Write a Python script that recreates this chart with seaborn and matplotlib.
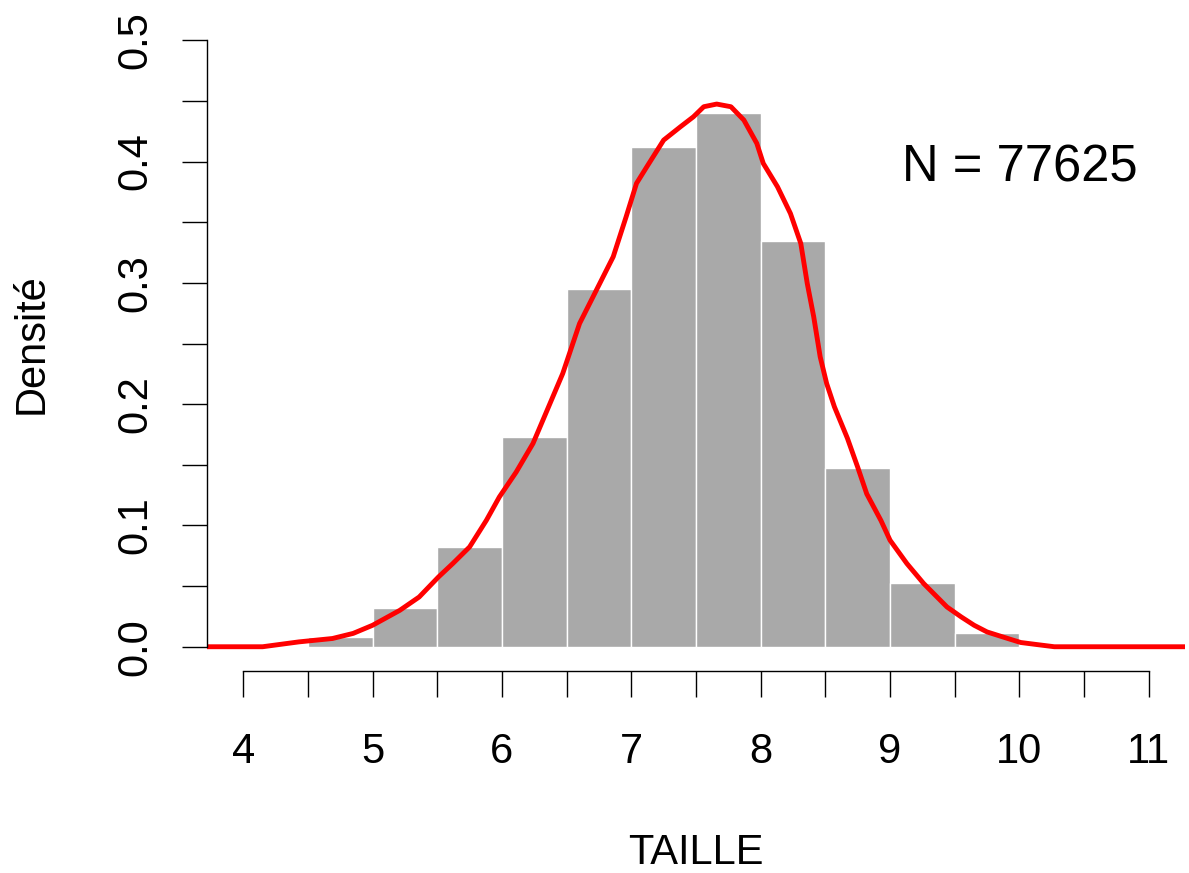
import numpy as np
import pandas as pd
import matplotlib
matplotlib.use("Agg")
import matplotlib.pyplot as plt
import seaborn as sns

# ---- data ----
bin_edges = [4.5, 5.0, 5.5, 6.0, 6.5, 7.0, 7.5, 8.0, 8.5, 9.0, 9.5, 10.0]
bin_density = [0.0077, 0.0316, 0.0823, 0.173, 0.295, 0.4123, 0.4403,
               0.3344, 0.1474, 0.0526, 0.0114]

curve_x = [3.72, 4.15, 4.43, 4.69, 4.85, 5.00, 5.21, 5.36, 5.51, 5.62, 5.75,
           5.88, 5.98, 6.11, 6.24, 6.47, 6.60, 6.73, 6.86, 6.96, 7.04, 7.12,
           7.25, 7.38, 7.48, 7.56, 7.66, 7.77, 7.87, 7.97, 8.02, 8.13, 8.23,
           8.31, 8.36, 8.41, 8.46, 8.51, 8.57, 8.67, 8.75, 8.82, 8.93, 9.00,
           9.13, 9.26, 9.44, 9.55, 9.65, 9.75, 9.91, 10.01, 10.12, 10.27, 11.28]
curve_y = [0.0, 0.0, 0.004, 0.0068, 0.011, 0.0177, 0.030, 0.041, 0.0576,
           0.0686, 0.0823, 0.1043, 0.1235, 0.144, 0.1676, 0.2253, 0.2665,
           0.294, 0.3215, 0.3545, 0.382, 0.3957, 0.4177, 0.4287, 0.4369,
           0.4452, 0.4474, 0.4452, 0.4342, 0.415, 0.3985, 0.3792, 0.3572,
           0.3325, 0.2995, 0.272, 0.239, 0.217, 0.1978, 0.172, 0.148, 0.126,
           0.104, 0.0878, 0.0686, 0.0521, 0.0328, 0.0246, 0.0177, 0.0122,
           0.0068, 0.0035, 0.002, 0.0, 0.0]

x_ticks = [4, 4.5, 5, 5.5, 6, 6.5, 7, 7.5, 8, 8.5, 9, 9.5, 10, 10.5, 11]
x_tick_labels = ["4", "", "5", "", "6", "", "7", "", "8", "", "9", "", "10", "", "11"]
y_ticks = [0.0, 0.05, 0.1, 0.15, 0.2, 0.25, 0.3, 0.35, 0.4, 0.45, 0.5]
y_tick_labels = ["0.0", "", "0.1", "", "0.2", "", "0.3", "", "0.4", "", "0.5"]

x_label = "TAILLE"
y_label = "Densité"
n_text = "N = 77625"

# ---- plotting ----
sns.set_theme(style="white")
plt.rcParams["font.family"] = ["Liberation Sans", "DejaVu Sans"]
plt.rcParams["text.color"] = "black"
plt.rcParams["axes.labelcolor"] = "black"
plt.rcParams["xtick.color"] = "black"
plt.rcParams["ytick.color"] = "black"

W, H, DPI = 1189, 873, 100
fig = plt.figure(figsize=(W / DPI, H / DPI), dpi=DPI)
ax_l, ax_r, ax_t, ax_b = 207, 1185, 16, 671
ax = fig.add_axes([ax_l / W, (H - ax_b) / H, (ax_r - ax_l) / W, (ax_b - ax_t) / H])

centers = [(a + b) / 2 for a, b in zip(bin_edges[:-1], bin_edges[1:])]
df = pd.DataFrame({"x": centers, "w": bin_density})
sns.histplot(data=df, x="x", weights="w", bins=bin_edges, stat="count",
             color="#A9A9A9", edgecolor="white", linewidth=1.0, alpha=1.0, ax=ax)

dc = pd.DataFrame({"x": curve_x, "y": curve_y})
sns.lineplot(data=dc, x="x", y="y", color="#FF0000", linewidth=3.5,
             estimator=None, sort=False, ax=ax)

ax.set_xlim(3.72, 11.28)
ax.set_ylim(-0.02, 0.52)

for s in ["top", "right"]:
    ax.spines[s].set_visible(False)
for s in ["left", "bottom"]:
    ax.spines[s].set_color("black")
    ax.spines[s].set_linewidth(1.0)
ax.spines["bottom"].set_bounds(4, 11)
ax.spines["left"].set_bounds(0, 0.5)

ax.set_xticks(x_ticks)
ax.set_xticklabels(x_tick_labels, fontsize=30, color="black")
ax.set_yticks(y_ticks)
ax.set_yticklabels(y_tick_labels, fontsize=30, rotation=90, va="center", color="black")
ax.tick_params(axis="x", direction="out", length=19, width=1.0, color="black",
               labelcolor="black", pad=25, bottom=True)
ax.tick_params(axis="y", direction="out", length=18, width=1.0, color="black",
               labelcolor="black", pad=19, left=True)

ax.set_xlabel(x_label, fontsize=30, color="black")
ax.set_ylabel(y_label, fontsize=30, color="black")
ax.xaxis.set_label_coords(0.5, -(833 - ax_b) / (ax_b - ax_t))
ax.xaxis.label.set_va("top")
ax.yaxis.set_label_coords(-(207 - 52) / (ax_r - ax_l), 0.5)

ax.text(10, 0.3833, n_text, fontsize=36.5, ha="center", va="baseline", color="black")

ax.grid(False)
fig.savefig("out.png", dpi=DPI, facecolor="white")
